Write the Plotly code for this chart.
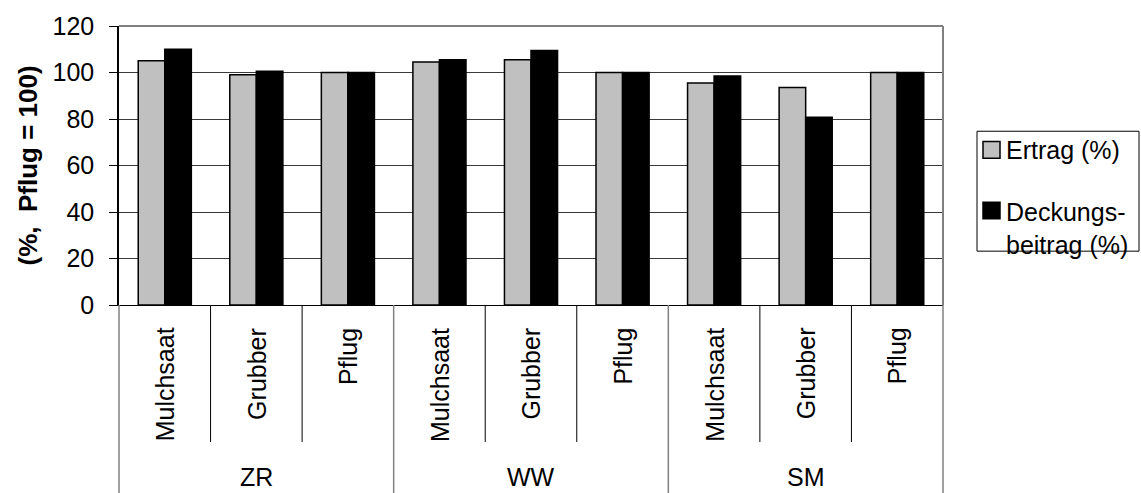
import plotly.graph_objects as go

# Relative yield and gross margin per crop and tillage method (Pflug = 100)
groups = ["ZR", "WW", "SM"]
methods = ["Mulchsaat", "Grubber", "Pflug"]
ertrag = [105, 99, 100, 104.5, 105.5, 100, 95.5, 93.5, 100]
deckungsbeitrag = [110, 100.5, 100, 105.5, 109.5, 100, 98.5, 80.8, 100]
y_ticks = [0, 20, 40, 60, 80, 100, 120]

series_names = ["Ertrag (%)", "Deckungs-<br>beitrag (%)"]
series_colors = ["#C0C0C0", "#000000"]

keys = [f"{g}|{m}" for g in groups for m in methods]
n_cat = len(keys)

FONT = "Arial, Liberation Sans, sans-serif"
W, H = 1141, 493
L, R, T, B = 119, 198, 20, 188
plot_w, plot_h = W - L - R, H - T - B


def px_x(px):
    return (px - L) / plot_w


def px_y(py):
    return (H - B - py) / plot_h


fig = go.Figure()
for name, vals, col in zip(series_names, [ertrag, deckungsbeitrag], series_colors):
    fig.add_trace(go.Bar(
        x=keys, y=vals, name=name,
        marker=dict(color=col, line=dict(color="#000000", width=1.5)),
        showlegend=False,
    ))

shapes = []
# frame: grey top and right edges
shapes.append(dict(type="line", xref="paper", yref="paper", x0=0, x1=1, y0=1, y1=1,
                   line=dict(color="#808080", width=2)))
shapes.append(dict(type="line", xref="paper", yref="paper", x0=1, x1=1, y0=0, y1=1,
                   line=dict(color="#808080", width=2)))

# category dividers below the axis
for i in range(n_cat + 1):
    xp = i / n_cat
    if i % len(methods) == 0:
        shapes.append(dict(type="line", xref="paper", yref="paper", x0=xp, x1=xp,
                           y0=0, y1=px_y(H + 5), line=dict(color="#808080", width=1.5)))
    else:
        shapes.append(dict(type="line", xref="paper", yref="paper", x0=xp, x1=xp,
                           y0=0, y1=px_y(445), line=dict(color="#000000", width=1)))

annotations = []
for i, k in enumerate(keys):
    annotations.append(dict(
        x=i, y=px_y(326), xref="x", yref="paper", text=k.split("|")[1],
        textangle=-90, xanchor="center", yanchor="top", showarrow=False,
        font=dict(family=FONT, size=25, color="#000000"),
    ))
for j, g in enumerate(groups):
    annotations.append(dict(
        x=j * len(methods) + 1, y=px_y(481), xref="x", yref="paper", text=g,
        xanchor="center", yanchor="middle", showarrow=False,
        font=dict(family=FONT, size=25, color="#000000"),
    ))

# y-axis title
annotations.append(dict(
    x=px_x(27), y=0.5, xref="paper", yref="paper", text="(%,\u00a0 Pflug = 100)",
    textangle=-90, xanchor="center", yanchor="middle", showarrow=False,
    font=dict(family=FONT, size=26, color="#000000", weight="bold"),
))

# legend box
shapes.append(dict(type="rect", xref="paper", yref="paper",
                   x0=px_x(977), x1=px_x(1139), y0=px_y(250), y1=px_y(127.5),
                   line=dict(color="#000000", width=1), fillcolor="#FFFFFF"))
legend_rows = [(138, series_colors[0]), (200, series_colors[1])]
for top, col in legend_rows:
    shapes.append(dict(type="rect", xref="paper", yref="paper",
                       x0=px_x(983), x1=px_x(1000), y0=px_y(top + 17), y1=px_y(top),
                       line=dict(color="#000000", width=1.5), fillcolor=col))
annotations.append(dict(
    x=px_x(1004), y=px_y(146.5), xref="paper", yref="paper", text=series_names[0],
    xanchor="left", yanchor="middle", showarrow=False, align="left",
    font=dict(family=FONT, size=25, color="#000000"),
))
annotations.append(dict(
    x=px_x(1004), y=px_y(194), xref="paper", yref="paper", text=series_names[1],
    xanchor="left", yanchor="top", showarrow=False, align="left",
    font=dict(family=FONT, size=25, color="#000000"),
))

fig.update_layout(
    width=W, height=H,
    margin=dict(l=L, r=R, t=T, b=B, pad=0),
    paper_bgcolor="#FFFFFF", plot_bgcolor="#FFFFFF",
    barmode="group", bargap=0.42, bargroupgap=0,
    font=dict(family=FONT, size=25, color="#000000"),
    shapes=shapes, annotations=annotations,
    xaxis=dict(
        type="category", categoryorder="array", categoryarray=keys,
        range=[-0.5, n_cat - 0.5], showticklabels=False, ticks="",
        showgrid=False, showline=True, linecolor="#000000", linewidth=1,
        zeroline=False, fixedrange=True,
    ),
    yaxis=dict(
        range=[0, 120], tickvals=y_ticks, ticks="outside", ticklen=8,
        tickcolor="#000000", tickwidth=1, showline=True, linecolor="#000000",
        linewidth=1.5, showgrid=True, gridcolor="#3a3a3a", gridwidth=1,
        zeroline=False, ticklabelstandoff=10,
        tickfont=dict(family=FONT, size=25, color="#000000"), fixedrange=True,
    ),
    showlegend=False,
)

fig.write_html("out.html")
